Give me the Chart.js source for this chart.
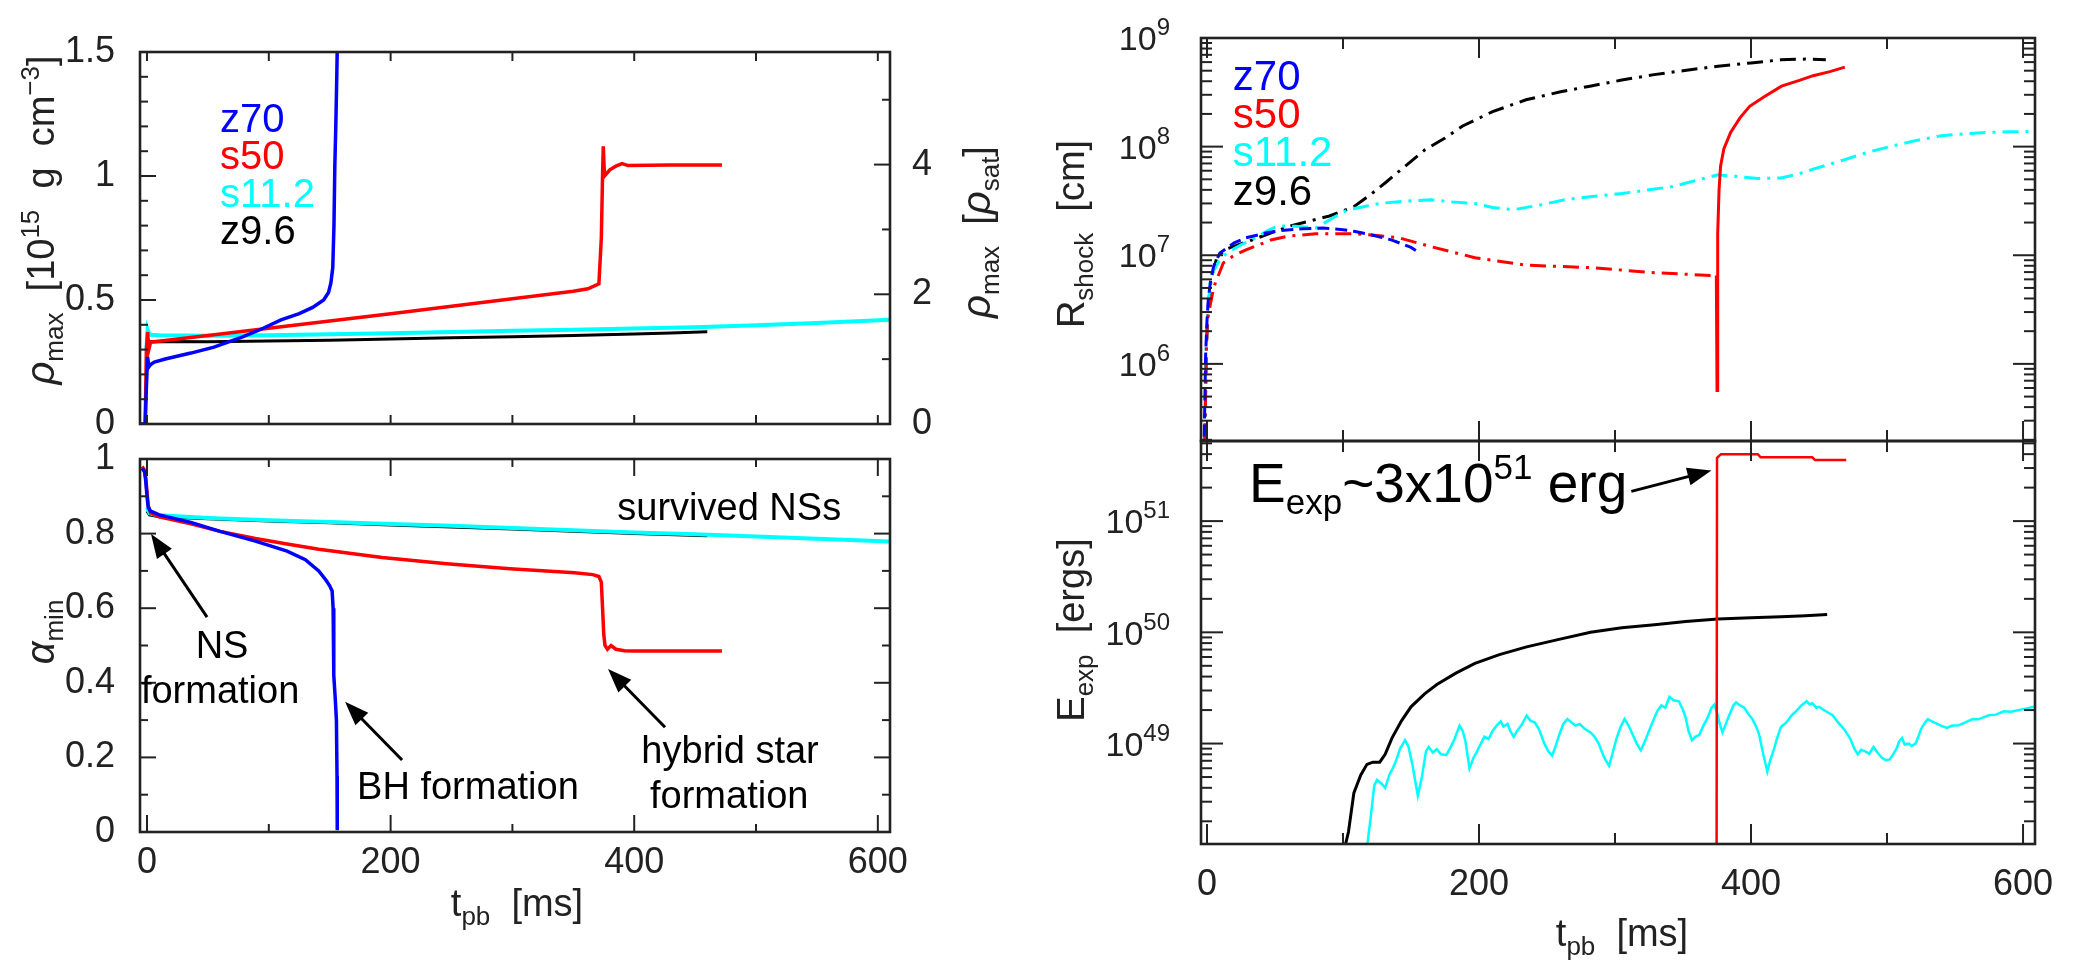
<!DOCTYPE html>
<html>
<head>
<meta charset="utf-8">
<title>rho_max, alpha_min, R_shock, E_exp</title>
<script src="https://cdn.jsdelivr.net/npm/chart.js@4.4.1/dist/chart.umd.min.js"></script>
<style>
  body { margin: 0; background: #fff; }
  #fig { position: relative; width: 2083px; height: 966px; overflow: hidden; }
  #fig canvas { position: absolute; left: 0; top: 0; }
</style>
</head>
<body>
<div id="fig">
  <canvas id="rhoChart" width="2083" height="966"></canvas>
  <canvas id="alphaChart" width="2083" height="966"></canvas>
  <canvas id="shockChart" width="2083" height="966"></canvas>
  <canvas id="expChart" width="2083" height="966"></canvas>
</div>
<script>
const FONT = '"Liberation Sans", Arial, Helvetica, sans-serif';
Chart.defaults.font.family = FONT;
Chart.defaults.color = '#222';

// axes
const tMajor = [0, 200, 400, 600];
const tMinor = [100, 300, 500];
const rhoTicks = [0, 0.5, 1, 1.5];
const rhoSatTicks = [0, 2, 4];
const rhoSat = 0.2615; // in 1e15 g/cm^3
const alphaTicks = [0, 0.2, 0.4, 0.6, 0.8, 1];
const rDecades = [6, 7, 8, 9];
const eDecades = [49, 50, 51];

const models = ['z70', 's50', 's11.2', 'z9.6'];
const colors = ['#0000ff', '#ff0000', '#00ffff', '#000000'];

// [t_pb (ms), rho_max (1e15 g/cm^3)]
const rhoZ70 = [[-6,0],[-1.5,0],[-0.5,0.15],[0.5,0.27],[1.5,0.23],[3,0.24],[6,0.25],[15,0.262],[36,0.286],[55,0.31],[78,0.35],[95,0.385],[110,0.42],[125,0.445],[136,0.47],[145,0.5],[149,0.53],[151,0.57],[152.5,0.63],[153.5,0.8],[154.2,1.04],[155,1.2],[155.8,1.4],[156.3,1.55]];
const rhoS50 = [[-1.5,0],[-0.5,0.3],[0.5,0.37],[1.5,0.3],[3,0.33],[20,0.34],[50,0.357],[100,0.386],[150,0.415],[200,0.445],[250,0.475],[300,0.505],[350,0.535],[362,0.545],[371,0.565],[373,0.75],[374,1.0],[374.6,1.12],[375.6,1.0],[380,1.025],[385,1.04],[390,1.05],[395,1.042],[430,1.044],[472,1.044]];
const rhoS112 = [[-0.5,0.3],[0.5,0.38],[1.5,0.365],[3,0.36],[10,0.358],[50,0.356],[100,0.358],[150,0.362],[200,0.366],[250,0.371],[300,0.376],[350,0.38],[400,0.385],[450,0.39],[500,0.398],[550,0.407],[610,0.42]];
const rhoZ96 = [[-0.5,0.3],[0.5,0.34],[2,0.332],[10,0.333],[50,0.332],[100,0.335],[150,0.338],[200,0.343],[250,0.348],[300,0.352],[350,0.357],[400,0.363],[430,0.367],[460,0.372]];

// [t_pb, alpha_min]
const alphaZ70 = [[-4,0.975],[-2,0.965],[-1,0.94],[0,0.9],[1,0.87],[3,0.86],[10,0.85],[36,0.83],[60,0.806],[89,0.78],[115,0.753],[130,0.73],[141,0.7],[147,0.675],[150,0.66],[152,0.646],[152.8,0.6],[153.2,0.5],[153.5,0.42],[154.5,0.36],[155.5,0.3],[156,0.15],[156.2,0.005]];
const alphaS50 = [[-4,0.98],[-2,0.97],[-1,0.95],[0,0.91],[1,0.875],[3,0.855],[10,0.845],[36,0.826],[60,0.806],[89,0.787],[115,0.772],[141,0.758],[193,0.736],[246,0.719],[298,0.706],[351,0.695],[366,0.69],[371,0.685],[373,0.67],[374,0.6],[375,0.53],[376,0.5],[378,0.49],[381,0.5],[385,0.49],[392,0.486],[400,0.485],[472,0.485]];
const alphaS112 = [[0,0.87],[2,0.855],[5,0.852],[10,0.849],[50,0.842],[100,0.836],[150,0.831],[200,0.826],[250,0.821],[300,0.815],[350,0.809],[400,0.803],[450,0.798],[500,0.792],[550,0.786],[610,0.779]];
const alphaZ96 = [[0,0.86],[2,0.85],[10,0.845],[50,0.84],[100,0.834],[150,0.829],[200,0.823],[250,0.818],[300,0.812],[350,0.806],[400,0.8],[460,0.794]];

// [t_pb, R_shock (cm)]
const shockZ70 = [[-2.5,1e5],[-1,1.2e6],[0,2.5e6],[1,4e6],[2.7,5.9e6],[5,8e6],[9.5,1.05e7],[20,1.3e7],[28.7,1.45e7],[45,1.62e7],[56.6,1.7e7],[70,1.75e7],[84.8,1.78e7],[100,1.72e7],[108,1.66e7],[120,1.55e7],[136,1.38e7],[150,1.18e7],[155,1.08e7]];
const shockS50 = [[-2,1e5],[-0.5,1.2e6],[0.4,2.6e6],[5,5.1e6],[12,8.5e6],[20,1e7],[28.7,1.12e7],[47,1.38e7],[60,1.5e7],[80,1.58e7],[108,1.58e7],[125,1.52e7],[141,1.45e7],[164.7,1.2e7],[197,9.5e6],[235,8.1e6],[282,7.7e6],[329,6.9e6],[373,6.5e6]];
const shockS50Exp = [[374.5,6.5e6],[375,5.7e5],[375.4,3e6],[375.6,1.58e7],[376.5,4e7],[377.6,6.6e7],[380,9.5e7],[385,1.35e8],[392,1.85e8],[399,2.35e8],[410,2.9e8],[422.4,3.6e8],[435,4.05e8],[445.7,4.5e8],[458,4.9e8],[469,5.4e8]];
const shockS112 = [[-2,1e5],[-0.5,1.5e6],[1,3.5e6],[2.7,6.3e6],[8,8.5e6],[14.5,1.05e7],[25,1.25e7],[33,1.38e7],[45,1.7e7],[52,1.86e7],[65,1.85e7],[80,1.78e7],[95,2.3e7],[103.7,2.63e7],[115,2.8e7],[127,3.0e7],[145,3.15e7],[164.7,3.24e7],[180,3.1e7],[197,3.0e7],[210,2.75e7],[225.5,2.63e7],[245,2.9e7],[263,3.24e7],[285,3.5e7],[305,3.7e7],[325,4.0e7],[342.6,4.3e7],[360,4.9e7],[375.6,5.5e7],[390,5.3e7],[405,5.1e7],[422,5.15e7],[435,5.6e7],[445.7,6.2e7],[469,7.6e7],[485,8.8e7],[502,1.0e8],[520,1.13e8],[540,1.26e8],[560,1.32e8],[574,1.35e8],[590,1.37e8],[609,1.38e8]];
const shockZ96 = [[-2,1e5],[-0.5,1.5e6],[1,3.5e6],[3,6e6],[7.5,9.8e6],[15,1.15e7],[33,1.38e7],[61,1.86e7],[90,2.3e7],[108,2.8e7],[120,3.6e7],[131.6,4.7e7],[145,6.5e7],[160,9.3e7],[175,1.2e8],[188,1.55e8],[210,2.1e8],[234.6,2.7e8],[260,3.2e8],[281.6,3.6e8],[305,4.1e8],[328.7,4.6e8],[350,5.0e8],[375.7,5.5e8],[400,5.9e8],[422,6.3e8],[440,6.4e8],[455,6.3e8]];

// [t_pb, E_exp (erg)]
const eexpS50 = [[374.6,1e47],[375,3.7e51],[378,4.0e51],[405,4.0e51],[407,3.75e51],[445,3.75e51],[447,3.55e51],[470,3.55e51]];
const eexpZ96 = [[100,1e48],[104,1.6e48],[108,3.6e48],[113,5.2e48],[117.6,6.5e48],[122,6.8e48],[127,6.8e48],[131,8e48],[136,1.12e49],[143,1.6e49],[150,2.14e49],[160,2.8e49],[169,3.4e49],[183,4.3e49],[197,5.25e49],[215,6.3e49],[235,7.4e49],[258,8.6e49],[282,1.0e50],[305,1.1e50],[329,1.17e50],[352,1.25e50],[375.6,1.32e50],[400,1.35e50],[422,1.38e50],[440,1.41e50],[456,1.45e50]];
const eexpS112 = [[117,1e48],[120,2e48],[123,4.2e48],[125,4.7e48],[128,4.4e48],[131,4.0e48],[134,5.2e48],[138,6.5e48],[142,9e48],[145.6,1.07e49],[148,9.5e48],[151,6.5e48],[155,3.4e48],[158,5e48],[161,8.5e48],[163,9.3e48],[166,8.3e48],[169,8.9e48],[172,8.0e48],[176,7.9e48],[179,9.2e48],[182,1.1e49],[185.7,1.45e49],[188,1.3e49],[190,1.05e49],[193,6e48],[196,7.5e48],[198,8.2e48],[201,9.8e48],[204,1.15e49],[207,1.1e49],[210,1.3e49],[213,1.45e49],[216,1.58e49],[218,1.42e49],[221,1.5e49],[223,1.3e49],[225.5,1.15e49],[228,1.3e49],[231,1.45e49],[235,1.78e49],[238,1.6e49],[241,1.55e49],[244,1.35e49],[248,1.0e49],[251,8.5e48],[253.7,7.8e48],[256,9.2e48],[259,1.2e49],[262,1.5e49],[265,1.66e49],[268,1.55e49],[271,1.45e49],[274,1.5e49],[278,1.35e49],[282,1.26e49],[285,1.15e49],[288,1.0e49],[292,7.5e48],[295.6,6.3e48],[298,8e48],[301,1.1e49],[304,1.4e49],[307,1.66e49],[310,1.45e49],[313,1.2e49],[316,1.0e49],[319,8.7e48],[322,1.05e49],[325,1.3e49],[328,1.6e49],[331,1.95e49],[334,2.2e49],[337,2.1e49],[340,2.63e49],[343,2.45e49],[347,2.4e49],[350,2.0e49],[352,1.7e49],[354,1.3e49],[356.6,1.07e49],[359,1.15e49],[362,1.2e49],[365,1.45e49],[368,1.7e49],[371,2.1e49],[373,2.24e49],[375,1.9e49],[377,1.5e49],[379,1.26e49],[381,1.45e49],[384,1.8e49],[387,2.2e49],[389,2.34e49],[392,2.2e49],[395,2.1e49],[398,1.85e49],[401,1.66e49],[404,1.4e49],[406,1.2e49],[409,8e48],[412,5.6e48],[414,7e48],[417,9e48],[419,1.1e49],[422,1.41e49],[426,1.55e49],[430,1.8e49],[434,2.0e49],[437,2.2e49],[441,2.4e49],[443,2.25e49],[445,2.3e49],[448,2.1e49],[450,2.14e49],[455,1.95e49],[460,1.8e49],[464,1.55e49],[469,1.32e49],[473,1.1e49],[476,9e48],[478.5,8e48],[481,8.8e48],[484,8.5e48],[487,8.1e48],[490,9.3e48],[493,8.3e48],[496,7.5e48],[499,7.1e48],[502,7.2e48],[505,8.2e48],[507,9e48],[509,1.05e49],[511,1.12e49],[513,9.8e48],[516,1.0e49],[518,9.5e48],[521,1.0e49],[523,1.15e49],[525,1.35e49],[528,1.55e49],[530,1.66e49],[533,1.58e49],[537,1.5e49],[540,1.44e49],[544,1.38e49],[548,1.45e49],[552,1.45e49],[556,1.52e49],[560,1.6e49],[563,1.66e49],[567,1.65e49],[571,1.72e49],[575,1.8e49],[580,1.82e49],[586,1.95e49],[591,1.93e49],[597,2.0e49],[602,2.06e49],[608,2.14e49]];

// ---------- helpers ----------
const P = (s, f, d, it) => ({ s, f, d: d || 0, it: !!it });
const pts = a => a.map(p => ({ x: p[0], y: p[1] }));
const series = (data, color, width, dash) => ({
  data: pts(data), borderColor: color, borderWidth: width, borderDash: dash || [],
  pointRadius: 0, tension: 0, fill: false
});

function rich(ctx, x, y, parts, rot, align, color) {
  ctx.save();
  ctx.translate(x, y);
  if (rot) ctx.rotate(rot);
  ctx.textBaseline = 'alphabetic';
  ctx.textAlign = 'left';
  ctx.fillStyle = color || '#222';
  const fnt = p => (p.it ? 'italic ' : '') + p.f + 'px ' + FONT;
  let w = 0, big = 0;
  const ws = parts.map(p => { ctx.font = fnt(p); const m = ctx.measureText(p.s).width; w += m; big = Math.max(big, p.f); return m; });
  let cx = align === 'left' ? 0 : align === 'right' ? -w : -w / 2;
  const base = 0.36 * big;
  parts.forEach((p, i) => { ctx.font = fnt(p); ctx.fillText(p.s, cx, base + p.d); cx += ws[i]; });
  ctx.restore();
}

function arrow(ctx, x1, y1, x2, y2) {
  const a = Math.atan2(y2 - y1, x2 - x1), L = 24, W = 9;
  const c = Math.cos(a), s = Math.sin(a);
  ctx.save();
  ctx.strokeStyle = '#000'; ctx.fillStyle = '#000'; ctx.lineWidth = 3;
  ctx.beginPath(); ctx.moveTo(x1, y1); ctx.lineTo(x2 - L * 0.8 * c, y2 - L * 0.8 * s); ctx.stroke();
  ctx.beginPath(); ctx.moveTo(x2, y2);
  ctx.lineTo(x2 - L * c + W * s, y2 - L * s - W * c);
  ctx.lineTo(x2 - L * c - W * s, y2 - L * s + W * c);
  ctx.closePath(); ctx.fill();
  ctx.restore();
}

function logMinor(lo, hi) {
  const out = [];
  for (let e = Math.floor(Math.log10(lo)); e <= Math.ceil(Math.log10(hi)); e++)
    for (let m = 2; m <= 9; m++) { const v = m * Math.pow(10, e); if (v > lo && v < hi) out.push(v); }
  return out;
}
const steps = (a, b, d) => { const out = []; for (let v = a; v <= b + 1e-9; v += d) out.push(+v.toFixed(3)); return out; };

// box with inward ticks on all four sides
function frame(f) {
  return {
    id: 'frame',
    afterDatasetsDraw(chart) {
      const { ctx, chartArea: a, scales } = chart;
      const seg = (x1, y1, x2, y2) => { ctx.beginPath(); ctx.moveTo(x1, y1); ctx.lineTo(x2, y2); ctx.stroke(); };
      ctx.save();
      ctx.strokeStyle = '#222';
      ctx.lineWidth = 2;
      [[f.xMaj, f.xMajLen], [f.xMin, f.xMinLen]].forEach(([vals, len]) => vals.forEach(v => {
        const px = scales.x.getPixelForValue(v);
        seg(px, a.bottom, px, a.bottom - len);
        seg(px, a.top, px, a.top + len);
      }));
      [[f.yMaj, f.yMajLen], [f.yMin, f.yMinLen]].forEach(([vals, len]) => vals.forEach(v => {
        const py = scales.y.getPixelForValue(v);
        seg(a.left, py, a.left + len, py);
        if (!f.y2Maj) seg(a.right, py, a.right - len, py);
      }));
      if (f.y2Maj) {
        [[f.y2Maj, f.yMajLen], [f.y2Min, f.yMinLen]].forEach(([vals, len]) => vals.forEach(v => {
          const py = scales.y1.getPixelForValue(v);
          seg(a.right, py, a.right - len, py);
        }));
      }
      ctx.lineWidth = 2.6;
      ctx.strokeRect(a.left, a.top, a.right - a.left, a.bottom - a.top);
      (f.logLabels || []).forEach(e => {
        rich(ctx, a.left - 31, scales.y.getPixelForValue(Math.pow(10, e)), [P('10', 34), P(String(e), 24, -15)], 0, 'right', '#222');
      });
      ctx.restore();
    }
  };
}

// texts and arrows; data coordinates unless abs
function notes(items) {
  return {
    id: 'notes',
    afterDraw(chart) {
      const { ctx, scales } = chart;
      const X = v => scales.x.getPixelForValue(v), Y = v => scales.y.getPixelForValue(v);
      items.forEach(it => {
        if (it.arrow) {
          const [x1, y1, x2, y2] = it.arrow;
          arrow(ctx, X(x1), Y(y1), X(x2), Y(y2));
        } else {
          const x = it.abs ? it.x : X(it.x), y = it.abs ? it.y : Y(it.y);
          rich(ctx, x, y, it.parts, it.rot || 0, it.align || 'center', it.color || '#000');
        }
      });
    }
  };
}

function xAxis(min, max, h, labels, pad) {
  return {
    type: 'linear', min, max,
    grid: { display: false, drawTicks: false }, border: { display: false },
    ticks: { display: labels, padding: pad || 0, font: { size: 36 }, color: '#222', maxRotation: 0, autoSkip: false, callback: v => String(v) },
    afterBuildTicks: s => { s.ticks = tMajor.map(v => ({ value: v })); },
    afterFit: s => { s.height = h; }
  };
}
function linAxis(min, max, w, vals, pos, pad) {
  return {
    type: 'linear', position: pos, min, max,
    grid: { display: false, drawTicks: false }, border: { display: false },
    ticks: { padding: pad, font: { size: 36 }, color: '#222', autoSkip: false, callback: v => String(v) },
    afterBuildTicks: s => { s.ticks = vals.map(v => ({ value: v })); },
    afterFit: s => { s.width = w; }
  };
}
function logAxis(min, max, w) {
  return {
    type: 'logarithmic', position: 'left', min, max,
    grid: { display: false, drawTicks: false }, border: { display: false },
    ticks: { display: false },
    afterFit: s => { s.width = w; }
  };
}

function makeChart(id, datasets, padding, scales, frameCfg, noteItems) {
  return new Chart(document.getElementById(id), {
    type: 'line',
    data: { datasets },
    options: {
      responsive: false, animation: false, devicePixelRatio: 1, events: [],
      layout: { padding },
      plugins: { legend: { display: false }, tooltip: { enabled: false } },
      scales
    },
    plugins: [frame(frameCfg), notes(noteItems)]
  });
}

const UP = -Math.PI / 2;
const legendParts = (i, size) => [P(models[i], size)];

// ---------- top left: rho_max ----------
makeChart('rhoChart',
  [series(rhoZ70, colors[0], 3.5), series(rhoS50, colors[1], 3.5), series(rhoS112, colors[2], 4), series(rhoZ96, colors[3], 3)],
  { left: 0, top: 52, right: 1043, bottom: 532 },
  {
    x: xAxis(-5.75, 610, 10, false),
    y: linAxis(0, 1.5, 140, rhoTicks, 'left', 25),
    y1: linAxis(0, 1.5 / rhoSat, 150, rhoSatTicks, 'right', 22)
  },
  { xMaj: tMajor, xMin: tMinor, xMajLen: 9, xMinLen: 9,
    yMaj: rhoTicks, yMin: steps(0, 1.5, 0.1), yMajLen: 16, yMinLen: 8,
    y2Maj: rhoSatTicks, y2Min: [1, 3, 5] },
  [
    { x: 60, y: 1.234, parts: legendParts(0, 40), align: 'left', color: colors[0] },
    { x: 60, y: 1.085, parts: legendParts(1, 40), align: 'left', color: colors[1] },
    { x: 60, y: 0.935, parts: legendParts(2, 40), align: 'left', color: colors[2] },
    { x: 60, y: 0.782, parts: legendParts(3, 40), align: 'left', color: colors[3] },
    { abs: true, x: 40, y: 220, rot: UP, color: '#222',
      parts: [P('ρ', 40, 0, 1), P('max', 26, 9), P('  [', 38), P('10', 38), P('15', 26, -15), P('  g  cm', 38), P('−3', 26, -15), P(']', 38)] },
    { abs: true, x: 976, y: 232, rot: UP, color: '#222',
      parts: [P('ρ', 40, 0, 1), P('max', 26, 9), P('  [', 38), P('ρ', 40, 0, 1), P('sat', 26, 9), P(']', 38)] }
  ]);

// ---------- bottom left: alpha_min ----------
makeChart('alphaChart',
  [series(alphaZ70, colors[0], 3.5), series(alphaS50, colors[1], 3.5), series(alphaS112, colors[2], 4), series(alphaZ96, colors[3], 3)],
  { left: 0, top: 459, right: 1193, bottom: 34 },
  {
    x: xAxis(-5.75, 610, 100, true, 9),
    y: linAxis(0, 1, 140, alphaTicks, 'left', 25)
  },
  { xMaj: tMajor, xMin: tMinor, xMajLen: 17, xMinLen: 8,
    yMaj: alphaTicks, yMin: steps(0.1, 0.9, 0.2), yMajLen: 16, yMinLen: 8 },
  [
    { x: 478, y: 0.872, parts: [P('survived NSs', 38)] },
    { x: 61.6, y: 0.504, parts: [P('NS', 38)] },
    { x: 60, y: 0.383, parts: [P('formation', 38)] },
    { arrow: [49.3, 0.576, 3.3, 0.799] },
    { x: 263.5, y: 0.126, parts: [P('BH formation', 38)] },
    { arrow: [209.4, 0.193, 162.6, 0.349] },
    { x: 478.7, y: 0.222, parts: [P('hybrid star', 38)] },
    { x: 478, y: 0.102, parts: [P('formation', 38)] },
    { arrow: [425.3, 0.281, 378.5, 0.437] },
    { abs: true, x: 40, y: 632, rot: UP, color: '#222', parts: [P('α', 40, 0, 1), P('min', 26, 9)] },
    { abs: true, x: 517, y: 902, color: '#222', parts: [P('t', 38), P('pb', 26, 9), P('  [ms]', 38)] }
  ]);

// ---------- top right: R_shock ----------
makeChart('shockChart',
  [series(shockS50Exp, colors[1], 3), series(shockZ70, colors[0], 3, [12, 6]), series(shockS50, colors[1], 3, [16, 7, 3, 7]),
   series(shockS112, colors[2], 3, [16, 7, 3, 7]), series(shockZ96, colors[3], 3, [16, 7, 3, 7])],
  { left: 1041, top: 38, right: 48, bottom: 518 },
  {
    x: xAxis(-4.41, 608.8, 7, false),
    y: logAxis(1.95e5, 1e9, 160)
  },
  { xMaj: tMajor, xMin: tMinor, xMajLen: 20, xMinLen: 11,
    yMaj: rDecades.map(e => Math.pow(10, e)), yMin: logMinor(1.95e5, 1e9), yMajLen: 22, yMinLen: 11,
    logLabels: rDecades },
  [
    { x: 19, y: 4.57e8, parts: legendParts(0, 42), align: 'left', color: colors[0] },
    { x: 19, y: 2.04e8, parts: legendParts(1, 42), align: 'left', color: colors[1] },
    { x: 19, y: 9.1e7, parts: legendParts(2, 42), align: 'left', color: colors[2] },
    { x: 19, y: 4.0e7, parts: legendParts(3, 42), align: 'left', color: colors[3] },
    { abs: true, x: 1070, y: 234, rot: UP, color: '#222', parts: [P('R', 38), P('shock', 26, 9), P('  [cm]', 38)] }
  ]);

// ---------- bottom right: E_exp ----------
makeChart('expChart',
  [series(eexpS50, colors[1], 2.5), series(eexpZ96, colors[3], 3), series(eexpS112, colors[2], 2.5)],
  { left: 1041, top: 441, right: 48, bottom: 22 },
  {
    x: xAxis(-4.41, 608.8, 100, true, 19),
    y: logAxis(1.25e48, 5.25e51, 160)
  },
  { xMaj: tMajor, xMin: tMinor, xMajLen: 20, xMinLen: 11,
    yMaj: eDecades.map(e => Math.pow(10, e)), yMin: logMinor(1.25e48, 5.25e51), yMajLen: 22, yMinLen: 11,
    logLabels: eDecades },
  [
    { x: 30.9, y: 2.25e51, align: 'left', parts: [P('E', 55), P('exp', 35, 12), P('~3x10', 55), P('51', 35, -23), P(' erg', 55)] },
    { arrow: [312, 1.85e51, 370.9, 2.85e51] },
    { abs: true, x: 1070, y: 630, rot: UP, color: '#222', parts: [P('E', 38), P('exp', 26, 9), P('  [ergs]', 38)] },
    { abs: true, x: 1622, y: 932, color: '#222', parts: [P('t', 38), P('pb', 26, 9), P('  [ms]', 38)] }
  ]);
</script>
</body>
</html>
